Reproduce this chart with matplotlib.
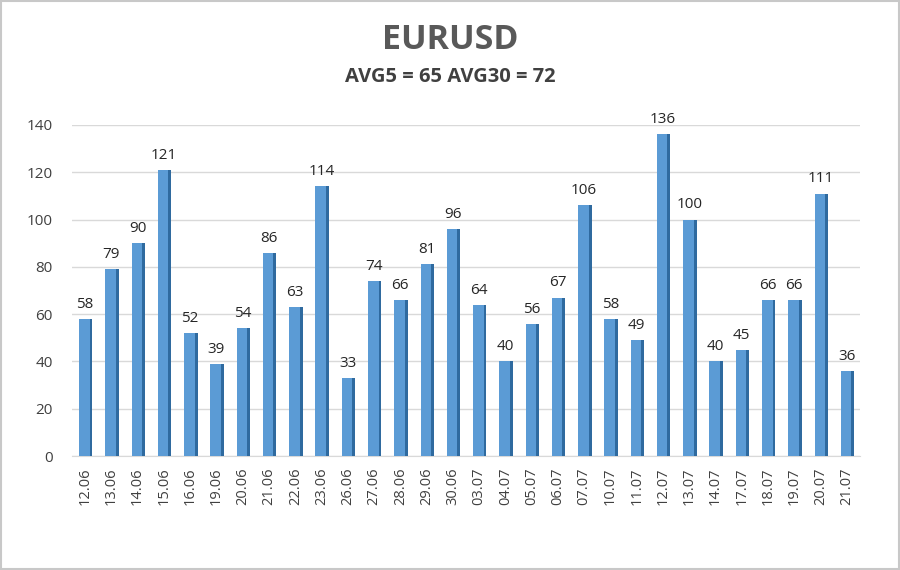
import matplotlib
matplotlib.use("Agg")
import matplotlib.pyplot as plt
import numpy as np
from matplotlib.patches import Rectangle

plt.rcParams['font.family'] = ['Open Sans', 'DejaVu Sans']

dates = ["12.06", "13.06", "14.06", "15.06", "16.06", "19.06", "20.06", "21.06", "22.06", "23.06",
         "26.06", "27.06", "28.06", "29.06", "30.06", "03.07", "04.07", "05.07", "06.07", "07.07",
         "10.07", "11.07", "12.07", "13.07", "14.07", "17.07", "18.07", "19.07", "20.07", "21.07"]
values = [58, 79, 90, 121, 52, 39, 54, 86, 63, 114,
          33, 74, 66, 81, 96, 64, 40, 56, 67, 106,
          58, 49, 136, 100, 40, 45, 66, 66, 111, 36]
title = "EURUSD"
subtitle = "AVG5 = 65 AVG30 = 72"
yticks = [0, 20, 40, 60, 80, 100, 120, 140]

fig = plt.figure(figsize=(9, 5.7), dpi=100)
fig.patch.set_facecolor('white')
ax = fig.add_axes([72/900, 1-456/570, (860-72)/900, (456-125)/570])

x = np.arange(len(values))
ax.bar(x - 0.03, values, width=0.40, color='#5B9BD5', edgecolor='none', zorder=3)
# darker side face for a 3D look
ax.bar(x + 0.17 + 0.055, values, width=0.11, color='#2F6A9F', edgecolor='none', zorder=3)

for xi, v in zip(x, values):
    ax.text(xi, v + 3, str(v), ha='center', va='bottom', fontsize=11, color='#262626')

ax.set_xlim(-0.5, len(values) - 0.5)
ax.set_ylim(0, 140)
ax.set_yticks(yticks)
ax.set_xticks(x)
ax.set_xticklabels(dates, rotation=90, fontsize=10.5, color='#404040')
ax.tick_params(axis='y', labelsize=11, labelcolor='#404040', length=0, pad=14)
ax.tick_params(axis='x', length=0, pad=8)
ax.grid(axis='y', color='#D9D9D9', linewidth=1, zorder=0)
for s in ['top', 'right', 'left']:
    ax.spines[s].set_visible(False)
ax.spines['bottom'].set_color('#D9D9D9')

fig.text(0.5, 1-40/570, title, ha='center', va='center', fontsize=24.5, fontweight='bold', color='#595959')
fig.text(0.5, 1-77/570, subtitle, ha='center', va='center', fontsize=14.5, fontweight='bold', color='#404040')

fig.add_artist(Rectangle((0.001, 0.001), 0.998, 0.998, transform=fig.transFigure,
                         fill=False, edgecolor='#C8C8C8', linewidth=1.5))

fig.savefig('out.png', dpi=100)
